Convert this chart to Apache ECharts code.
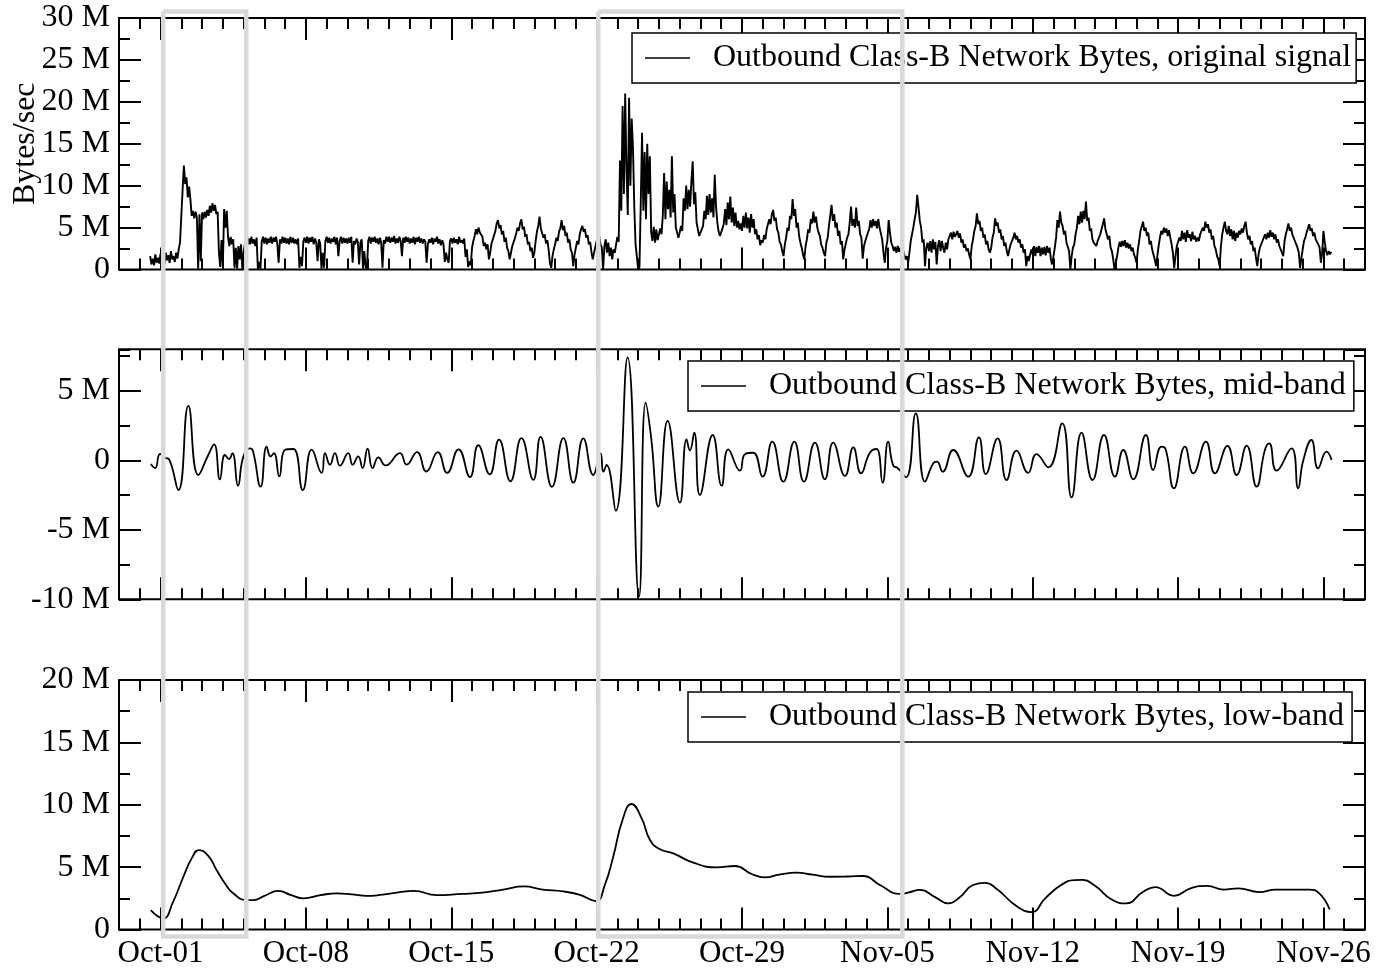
<!DOCTYPE html>
<html>
<head>
<meta charset="utf-8">
<script src="https://cdn.jsdelivr.net/npm/echarts@6/dist/echarts.min.js"></script>
<style>
  html, body { margin: 0; padding: 0; background: #fff; }
  #chart { width: 1378px; height: 969px; }
</style>
</head>
<body>
<div id="chart"></div>
<script>
// x positions are days since Oct-01 (negative = late September)
const weekDays = [0, 7, 14, 21, 28, 35, 42, 49, 56];
const weekLabels = ['Oct-01', 'Oct-08', 'Oct-15', 'Oct-22', 'Oct-29', 'Nov-05', 'Nov-12', 'Nov-19', 'Nov-26'];

// original signal, one reading every 90 minutes starting Sep-30 12:00, in M bytes/sec
const origStartDay = -0.5;
const origStepDays = 0.0625;
const origValues = [
  1.6, 0.6, 1.3, 0.5, 1.8, 0.8, 1.4, 0.7,
  1.9, 1.0, 1.5, 0.6, 2.0, 1.1, 1.7, 0.8, 2.2, 1.2, 1.6, 0.9, 2.0, 1.3, 2.4, 3.2,
  3.0, 9.5, 12.4, 10.2, 11.0, 8.6, 9.9, 8.4, 6.4, 7.0, 6.1, 6.9, 6.2, 0.1, 6.6, 1.0,
  6.8, 6.0, 6.9, 6.2, 7.1, 6.4, 7.6, 6.8, 7.9, 7.0, 7.7, 6.6, 6.9, 2.0, 0.3, 3.5,
  0.4, 7.2, 5.0, 7.0, 3.9, 2.8, 3.9, 3.0, 3.6, 0.2, 2.6, 0.1, 2.8, 1.2, 3.0, 0.1,
  2.0, 3.1, 3.8, 2.9, 3.7, 3.0, 3.9, 3.1, 3.6, 2.8, 3.8, 0.0, 0.9, 0.1, 3.4, 3.9,
  3.1, 3.8, 3.0, 3.7, 3.2, 3.9, 3.1, 3.8, 3.3, 3.9, 3.0, 0.8, 3.6, 3.1, 3.9, 3.2,
  3.8, 3.1, 3.7, 3.0, 3.9, 3.2, 3.8, 3.1, 3.6, 3.0, 3.7, 0.2, 1.5, 0.4, 3.3, 3.8,
  3.2, 3.9, 3.1, 3.8, 3.3, 3.9, 3.0, 3.7, 3.2, 1.0, 3.6, 3.1, 0.1, 2.0, 0.2, 3.4,
  3.9, 3.2, 3.8, 3.1, 3.7, 3.3, 3.9, 3.0, 3.8, 1.6, 3.4, 3.9, 3.1, 3.8, 3.2, 3.7,
  3.1, 3.8, 3.2, 3.9, 0.8, 3.4, 3.0, 3.7, 3.3, 0.6, 3.2, 3.6, 0.1, 2.2, 0.3, 0.0,
  3.4, 3.9, 3.1, 3.8, 3.3, 3.9, 3.2, 3.7, 3.0, 3.8, 3.2, 0.2, 3.5, 3.1, 3.9, 3.3,
  3.9, 3.2, 3.8, 3.3, 4.0, 3.1, 3.7, 3.2, 3.9, 3.4, 1.6, 3.8, 3.2, 3.9, 3.3, 3.8,
  3.1, 3.7, 3.2, 3.9, 3.0, 3.8, 3.3, 3.9, 3.2, 3.7, 3.1, 3.6, 3.3, 0.8, 3.0, 3.6,
  3.2, 3.8, 3.0, 3.7, 3.3, 3.9, 3.1, 3.6, 2.9, 3.5, 3.0, 0.9, 2.0, 1.2, 0.8, 3.4,
  3.7, 3.1, 3.8, 3.2, 3.6, 3.0, 3.9, 3.2, 3.5, 3.1, 3.7, 1.5, 2.4, 0.3, 1.0, 0.5,
  2.6, 3.4, 4.0, 4.8, 4.2, 5.0, 4.4, 4.6, 3.9, 2.8, 3.2, 2.4, 3.0, 1.2, 2.0, 3.1,
  3.0, 4.1, 4.6, 5.5, 5.9, 4.9, 5.3, 4.2, 4.6, 3.3, 3.8, 2.6, 2.2, 1.2, 2.0, 2.8,
  2.9, 3.7, 4.3, 5.0, 4.6, 5.5, 6.0, 4.8, 5.1, 3.9, 4.2, 3.0, 3.3, 2.2, 2.6, 1.4,
  2.0, 3.4, 4.5, 5.2, 6.3, 4.9, 5.1, 3.8, 4.2, 3.1, 3.5, 2.4, 0.8, 0.2, 1.6, 2.4,
  3.0, 3.8, 3.4, 4.5, 4.9, 5.9, 4.7, 5.2, 4.0, 4.4, 3.2, 3.6, 2.4, 2.0, 0.4, 1.8,
  2.6, 3.4, 3.0, 4.2, 4.8, 5.2, 4.5, 4.8, 3.8, 4.1, 3.0, 3.3, 2.1, 1.2, 2.0, 2.7,
  3.4, 2.5, 4.0, 3.0, 2.6, 0.0, 2.8, 3.6, 2.0, 3.2, 1.6, 2.6, 1.2, 2.4, 2.0, 3.0,
  3.9, 3.3, 13.0, 7.0, 19.5, 9.0, 21.0, 12.0, 6.5, 20.5, 10.0, 18.0, 14.5, 7.5, 3.0, 1.5,
  0.0, 0.3, 8.0, 16.3, 7.0, 14.0, 6.0, 15.0, 9.0, 13.5, 4.5, 3.4, 5.1, 3.2, 4.8, 3.5,
  3.4, 4.9, 4.2, 6.5, 11.5, 6.0, 10.5, 7.2, 9.5, 6.2, 13.5, 6.8, 9.0, 5.0, 4.4, 3.8,
  4.4, 5.2, 4.6, 8.5, 7.0, 10.0, 7.2, 9.5, 7.5, 10.5, 12.9, 7.8, 9.2, 5.6, 4.8, 4.0,
  4.2, 4.8, 5.2, 7.0, 6.0, 8.8, 6.5, 9.0, 6.8, 8.5, 6.2, 11.3, 7.5, 5.6, 4.5, 4.0,
  4.1, 4.9, 5.5, 7.2, 5.3, 8.0, 6.0, 8.7, 5.6, 7.4, 5.2, 6.8, 5.0, 5.8, 4.8, 5.5,
  4.6, 6.4, 5.0, 6.8, 4.9, 6.2, 4.4, 6.6, 5.0, 6.0, 4.2, 4.8, 3.6, 4.1, 2.9, 3.5,
  3.2, 4.1, 3.6, 4.8, 5.0, 6.0, 5.4, 6.6, 7.1, 5.8, 6.2, 4.8, 4.4, 3.3, 3.0, 2.2,
  1.6, 3.0, 3.8, 5.0, 4.6, 6.4, 6.0, 8.4, 6.4, 7.2, 5.0, 5.6, 4.0, 3.2, 2.6, 1.8,
  1.2, 2.8, 3.6, 4.8, 4.4, 6.0, 5.5, 6.9, 5.6, 6.3, 5.0, 4.4, 4.0, 3.0, 2.6, 2.0,
  1.6, 3.2, 3.8, 5.2, 5.0, 7.7, 5.8, 6.6, 5.0, 5.6, 4.0, 4.6, 3.0, 3.4, 1.2, 2.4,
  2.6, 3.8, 4.2, 5.6, 7.5, 5.2, 6.0, 5.0, 7.4, 5.2, 5.8, 4.2, 3.8, 1.3, 2.8, 3.4,
  3.5, 4.4, 4.8, 5.9, 5.0, 6.0, 5.2, 5.8, 4.9, 6.0, 5.0, 4.8, 3.6, 2.0, 0.8, 2.6,
  3.4, 5.9, 4.4, 3.2, 2.8, 2.2, 2.7, 2.0, 2.8, 2.1, 2.6, 2.0, 2.4, 1.8, 1.2, 1.6,
  0.8, 2.0, 3.4, 4.2, 5.0, 6.0, 6.8, 8.9, 7.4, 5.8, 5.0, 3.2, 3.6, 0.4, 2.6, 3.2,
  2.2, 3.4, 2.0, 3.6, 2.4, 3.3, 0.6, 2.8, 3.5, 2.2, 3.4, 2.6, 2.0, 3.2, 2.4, 3.6,
  3.8, 4.4, 3.6, 4.5, 3.9, 4.2, 4.6, 3.8, 4.3, 3.2, 3.6, 2.6, 3.0, 2.2, 2.5, 1.8,
  1.2, 2.8, 3.6, 4.6, 5.2, 6.7, 5.4, 5.8, 4.6, 5.0, 3.8, 4.2, 3.0, 3.4, 2.4, 2.0,
  2.6, 3.8, 4.4, 6.1, 5.2, 5.6, 4.4, 4.8, 3.6, 4.0, 2.8, 3.2, 2.2, 1.6, 2.4, 3.0,
  3.2, 3.8, 4.4, 3.6, 4.0, 3.2, 3.6, 2.6, 3.0, 2.0, 2.4, 0.4, 1.6, 1.0, 1.8, 2.4,
  1.8, 2.8, 1.6, 2.7, 2.0, 2.8, 1.6, 2.6, 1.8, 2.7, 1.7, 2.8, 2.0, 2.6, 1.2, 0.6,
  0.4, 2.6, 3.8, 5.9, 5.0, 6.9, 5.6, 5.2, 4.2, 4.6, 3.2, 3.0, 2.2, 0.0, 1.6, 2.6,
  3.0, 4.2, 5.0, 6.4, 5.4, 6.9, 5.6, 7.0, 6.0, 8.1, 5.8, 6.2, 4.6, 4.9, 3.6, 3.2,
  3.0, 2.8, 3.4, 3.2, 4.2, 4.8, 5.4, 6.1, 4.8, 5.0, 3.6, 4.0, 2.6, 2.2, 1.2, 0.0,
  0.0, 1.6, 2.6, 3.3, 2.7, 3.4, 2.8, 3.5, 2.6, 3.2, 2.5, 3.0, 2.2, 2.6, 1.8, 1.4,
  0.8, 2.4, 3.4, 4.6, 4.8, 5.7, 4.6, 5.0, 4.0, 4.4, 3.0, 3.4, 2.4, 1.8, 1.2, 0.4,
  0.6, 2.8, 3.8, 4.6, 4.2, 5.0, 4.4, 4.9, 4.0, 4.7, 3.8, 3.0, 2.0, 0.2, 1.6, 2.8,
  3.0, 3.8, 3.4, 4.6, 3.6, 4.4, 3.3, 4.7, 3.8, 4.2, 3.4, 4.5, 3.6, 4.0, 3.3, 3.8,
  3.4, 4.2, 4.0, 5.0, 4.6, 5.7, 5.0, 5.4, 4.4, 4.8, 3.6, 4.0, 2.8, 2.4, 1.6, 1.2,
  0.4, 2.8, 4.2, 5.0, 5.7, 4.6, 4.2, 5.2, 4.0, 4.8, 3.6, 4.6, 3.4, 4.4, 3.8, 4.6,
  4.2, 4.9, 4.4, 5.2, 5.7, 4.4, 3.6, 4.0, 3.0, 3.4, 2.2, 2.6, 1.4, 0.4, 1.8, 2.6,
  2.4, 3.4, 3.8, 4.2, 3.6, 4.4, 3.8, 4.7, 3.9, 4.4, 3.6, 4.2, 3.2, 3.6, 2.8, 3.0,
  2.0, 1.6, 3.4, 4.2, 4.8, 5.5, 4.6, 5.0, 4.2, 4.4, 3.4, 3.6, 2.6, 2.0, 0.2, 1.4,
  2.4, 3.4, 3.8, 4.4, 4.6, 5.4, 4.6, 4.9, 4.0, 4.4, 3.6, 3.8, 3.0, 2.6, 0.8, 2.0,
  4.6, 3.2, 2.2, 1.7, 2.2, 1.8, 2.1
];

// mid-band component: [day, M bytes/sec] at its turning points
const midBand = [
  [-0.47, -0.26], [-0.26, -0.55], [-0.02, 0.46], [0.25, 0.17], [0.4, 0.1], [0.86, -2.13],
  [1.34, 3.92], [1.82, -1.05], [2.3, 0.39], [2.58, 1.16], [2.86, -1.36], [3.1, 0.39],
  [3.3, 0.1], [3.46, 0.53], [3.73, -1.82], [3.99, 0.29], [4.31, 0.87], [4.45, 0.67],
  [4.82, -1.89], [5.11, 0.99], [5.3, 0.28], [5.46, 0.53], [5.72, -1.15], [6.0, 0.77],
  [6.4, 0.82], [6.85, -2.13], [7.28, 0.77], [7.76, -0.9], [7.92, 0.53], [8.16, -0.31],
  [8.4, 0.53], [8.64, -0.38], [9.04, 0.53], [9.25, -0.31], [9.52, 0.29], [9.73, -0.55],
  [9.97, 0.84], [10.21, -0.55], [10.49, 0.22], [10.84, -0.36], [11.53, 0.53], [11.85, -0.3],
  [12.35, 0.6], [12.8, -0.8], [13.35, 0.6], [13.8, -0.9], [14.35, 0.8], [14.9, -1.2],
  [15.3, 1.1], [15.85, -1.0], [16.3, 1.5], [16.85, -1.5], [17.38, 1.6], [17.95, -1.4],
  [18.3, 1.7], [18.85, -1.9], [19.4, 1.6], [19.88, -1.6], [20.36, 1.59], [20.84, -1.05],
  [21.19, 0.51], [21.32, -0.81], [21.48, -0.33], [21.92, -3.62], [22.49, 7.42], [23.04, -9.81],
  [23.36, 4.15], [23.62, 1.71], [23.97, -3.33], [24.42, 2.84], [25.01, -3.04], [25.33, 1.52],
  [25.49, 0.72], [25.7, 2.0], [25.97, -2.49], [26.59, 1.83], [27.02, -1.82], [27.34, 0.8],
  [27.9, -0.74], [28.15, 0.46], [28.54, 0.55], [28.99, -1.17], [29.46, 1.35], [29.99, -1.53],
  [30.52, 1.35], [30.98, -1.53], [31.51, 1.28], [31.99, -1.36], [32.39, 1.28], [32.96, -1.12],
  [33.36, 0.94], [33.73, -0.93], [34.16, 0.55], [34.48, 0.82], [34.77, -1.6], [35.04, 1.35],
  [35.28, -0.36], [35.5, -0.55], [35.9, -1.22], [36.37, 3.39], [36.81, -1.53], [37.21, -0.21],
  [37.39, -0.09], [37.66, -0.81], [38.17, 0.75], [38.89, -1.17], [39.41, 1.66], [39.74, -0.98],
  [40.31, 1.59], [40.74, -1.41], [41.22, 0.7], [41.78, -0.9], [42.18, 0.45], [42.75, -0.5],
  [43.42, 2.67], [43.87, -2.66], [44.35, 2.0], [44.88, -1.41], [45.43, 1.83], [45.96, -1.17],
  [46.36, 0.75], [46.84, -1.36], [47.45, 1.83], [47.8, -0.69], [48.2, 0.99], [48.4, 0.8],
  [48.8, -2.01], [49.33, 0.99], [49.73, -0.93], [50.34, 1.35], [50.77, -0.93], [51.38, 1.05],
  [51.82, -1.05], [52.3, 1.07], [52.78, -1.89], [53.18, 0.75], [53.39, 1.23], [53.74, -0.74],
  [54.46, 0.87], [54.78, -2.01], [55.02, -0.04], [55.42, 1.47], [55.74, -0.57], [56.15, 0.63],
  [56.39, 0.04]
];

// low-band component: [day, M bytes/sec]
const lowBand = [
  [-0.47, 1.56], [0.13, 0.9], [0.6, 2.2], [1.1, 4.23], [1.5, 5.7], [1.85, 6.37], [2.3, 5.9],
  [2.7, 4.77], [3.1, 3.7], [3.5, 2.9], [4.15, 2.36], [4.47, 2.36], [5.0, 2.7], [5.67, 3.09],
  [6.3, 2.75], [6.88, 2.5], [7.7, 2.75], [8.48, 2.9], [9.2, 2.82], [9.93, 2.69], [10.7, 2.8],
  [11.37, 2.95], [12.2, 3.1], [13.3, 2.75], [14.5, 2.85], [15.5, 2.95], [16.5, 3.2], [17.5, 3.45],
  [18.4, 3.2], [19.4, 3.05], [20.2, 2.77], [20.97, 2.28], [21.4, 3.6], [21.8, 5.84], [22.25, 8.8],
  [22.68, 10.06], [23.17, 8.91], [23.57, 7.17], [24.05, 6.43], [24.69, 6.1], [25.65, 5.36],
  [26.78, 4.98], [27.66, 5.09], [28.46, 4.45], [29.1, 4.18], [29.8, 4.4], [30.63, 4.56],
  [31.4, 4.4], [32.23, 4.23], [33.1, 4.25], [33.84, 4.29], [34.64, 3.57], [35.6, 2.85],
  [36.0, 2.95], [36.57, 3.17], [37.3, 2.6], [37.93, 2.1], [38.5, 2.6], [39.13, 3.57],
  [39.7, 3.73], [40.3, 3.2], [41.2, 1.9], [41.95, 1.4], [42.6, 2.5], [43.4, 3.6], [44.0, 3.95],
  [44.4, 3.97], [45.0, 3.5], [45.8, 2.4], [46.5, 2.1], [47.3, 3.0], [47.9, 3.4], [48.8, 2.7],
  [49.6, 3.3], [50.4, 3.5], [51.2, 3.2], [51.9, 3.3], [52.9, 3.0], [53.7, 3.2], [54.4, 3.2],
  [55.3, 3.2], [55.8, 2.9], [56.3, 1.6]
];

// periods outlined across all three panels: [startDay, endDay]
const highlightSpans = [[0.13, 4.13], [21.08, 35.72]];

const seriesNames = [
  'Outbound Class-B Network Bytes, original signal',
  'Outbound Class-B Network Bytes, mid-band',
  'Outbound Class-B Network Bytes, low-band'
];

const FONT = '"Liberation Serif", "DejaVu Serif", serif';
const INK = '#000';

const origData = origValues.map((v, i) => [origStartDay + i * origStepDays, v]);

const panels = [
  { top: 18, height: 251.5, min: 0, max: 30 },
  { top: 349.3, height: 250, min: -10, max: 8 },
  { top: 680, height: 249.5, min: 0, max: 20 }
];

// fixed plot boxes: labels and names sit outside them without resizing the grid
const grid = panels.map(p => ({
  left: 119, right: 13, top: p.top, height: p.height,
  containLabel: false, outerBoundsMode: 'none',
  show: true, borderColor: INK, borderWidth: 2, backgroundColor: 'transparent'
}));

const tickStyle = { color: INK, width: 2 };

function xAxisFor(g, position, major, withLabels) {
  const ax = {
    type: 'value', gridIndex: g, position, min: -2, max: 58,
    axisLine: { show: false, onZero: false }, splitLine: { show: false },
    axisTick: major
      ? { inside: true, length: 22, customValues: weekDays, lineStyle: tickStyle }
      : { inside: true, length: 11, lineStyle: tickStyle },
    axisLabel: { show: false }
  };
  if (!major) ax.interval = 1;
  if (withLabels) {
    ax.axisLabel = {
      show: true, customValues: weekDays, margin: 9,
      fontFamily: FONT, fontSize: 31, color: INK,
      formatter: v => weekLabels[weekDays.indexOf(Math.round(v))]
    };
  }
  return ax;
}

function yAxisFor(g, position, major, withLabels) {
  const p = panels[g];
  const ax = {
    type: 'value', gridIndex: g, position, min: p.min, max: p.max,
    interval: major ? 5 : 2.5,
    axisLine: { show: false, onZero: false }, splitLine: { show: false },
    axisTick: { inside: true, length: major ? 22 : 11, lineStyle: tickStyle },
    axisLabel: { show: false }
  };
  if (withLabels) {
    ax.axisLabel = {
      show: true, margin: 9, fontFamily: FONT, fontSize: 32, color: INK,
      formatter: v => (v === 0 ? '0' : v + ' M'),
      showMaxLabel: p.max % 5 === 0
    };
  }
  return ax;
}

const xAxis = [], yAxis = [];
panels.forEach((p, g) => {
  xAxis.push(xAxisFor(g, 'bottom', true, g === 2));
  xAxis.push(xAxisFor(g, 'bottom', false, false));
  xAxis.push(xAxisFor(g, 'top', true, false));
  xAxis.push(xAxisFor(g, 'top', false, false));
  yAxis.push(yAxisFor(g, 'left', true, true));
  yAxis.push(yAxisFor(g, 'left', false, false));
  yAxis.push(yAxisFor(g, 'right', true, false));
  yAxis.push(yAxisFor(g, 'right', false, false));
});
yAxis[0].name = 'Bytes/sec';
yAxis[0].nameLocation = 'middle';
yAxis[0].nameGap = 77;
yAxis[0].nameMoveOverlap = false;
yAxis[0].nameTextStyle = { fontFamily: FONT, fontSize: 32, color: INK };

// legend sample drawn as a thin horizontal bar
const legendBase = {
  orient: 'horizontal', selectedMode: false,
  icon: 'rect', itemWidth: 45, itemHeight: 1.6,
  padding: [9, 8, 9, 13],
  borderColor: INK, borderWidth: 1.5, backgroundColor: '#fff',
  textStyle: { fontFamily: FONT, fontSize: 32, color: INK, padding: [0, 0, 0, 18] }
};
const legend = [
  Object.assign({}, legendBase, { data: [seriesNames[0]], left: 632, top: 33, padding: [9, 5, 9, 13] }),
  Object.assign({}, legendBase, { data: [seriesNames[1]], left: 688, top: 361 }),
  Object.assign({}, legendBase, { data: [seriesNames[2]], left: 688, top: 692 })
];

const lineCommon = { type: 'line', symbol: 'none', showSymbol: false, animation: false, sampling: null };

const option = {
  animation: false,
  backgroundColor: '#fff',
  grid, xAxis, yAxis, legend,
  series: [
    Object.assign({}, lineCommon, {
      name: seriesNames[0], xAxisIndex: 0, yAxisIndex: 0, data: origData,
      lineStyle: { color: INK, width: 1.9 }, itemStyle: { color: INK }
    }),
    Object.assign({}, lineCommon, {
      name: seriesNames[1], xAxisIndex: 4, yAxisIndex: 4, data: midBand, smooth: 0.5,
      lineStyle: { color: INK, width: 1.8 }, itemStyle: { color: INK }
    }),
    Object.assign({}, lineCommon, {
      name: seriesNames[2], xAxisIndex: 8, yAxisIndex: 8, data: lowBand, smooth: 0.5,
      lineStyle: { color: INK, width: 1.8 }, itemStyle: { color: INK }
    })
  ]
};

const chart = echarts.init(document.getElementById('chart'), null, { renderer: 'canvas' });
chart.setOption(option);

// outline the highlighted periods through all panels, using the shared day scale
const boxes = highlightSpans.map(([a, b]) => {
  const x0 = chart.convertToPixel({ seriesIndex: 2 }, [a, 0])[0];
  const x1 = chart.convertToPixel({ seriesIndex: 2 }, [b, 0])[0];
  return {
    type: 'polyline', z: 100, silent: true,
    shape: { points: [[x0, 11.5], [x1, 11.5], [x1, 936.5], [x0, 936.5], [x0, 11.5]] },
    style: { fill: null, stroke: '#d9d9d9', lineWidth: 4.5, lineJoin: 'miter' }
  };
});
chart.setOption({ graphic: { elements: boxes } });
</script>
</body>
</html>
